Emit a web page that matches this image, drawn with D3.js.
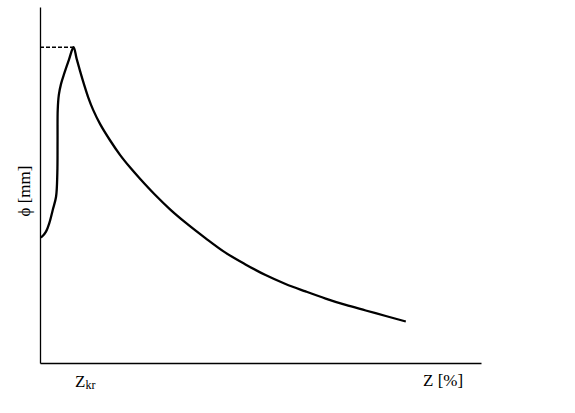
<!DOCTYPE html>
<html>
<head>
<meta charset="utf-8">
<script src="https://cdn.jsdelivr.net/npm/d3@7"></script>
<style>
  body { margin: 0; background: #fff; }
  text { font-family: "Liberation Serif", "Times New Roman", serif; fill: #000; }
</style>
</head>
<body>
<svg id="chart"></svg>
<script>
// curve (Z in %, phi in mm, arbitrary units)
const zValues = [0.11, 0.45, 1.36, 2.11, 2.89, 3.64, 3.93, 3.98, 4.02, 4.27, 4.77, 5.52, 6.59, 7.61,
  8.3, 9.09, 10.0, 10.91, 12.05, 13.64, 15.91, 18.18, 20.45, 22.73, 26.14, 29.55, 32.95,
  37.5, 42.05, 46.59, 51.14, 55.68, 60.23, 64.77, 69.32, 73.86, 78.41, 82.95];
const phiValues = [35.3, 35.5, 36.9, 39.3, 43.0, 46.7, 53.4, 62.6, 71.1, 75.3, 78.4, 81.4, 85.3, 88.7,
  85.5, 82.0, 78.2, 74.7, 71.1, 67.1, 62.5, 58.4, 54.9, 51.7, 47.2, 43.1, 39.5,
  35.1, 31.0, 27.7, 24.7, 22.2, 20.1, 18.1, 16.3, 14.75, 13.2, 11.66];
const zKr = 7.61;
const phiMax = 88.7;
const xTitle = "Z [%]";
const yTitle = "\u03D5 [mm]";

const width = 575, height = 413;
const margin = { top: 7, right: 94, bottom: 50, left: 40 };

const svg = d3.select("#chart")
  .attr("width", width)
  .attr("height", height);

const xScale = d3.scaleLinear()
  .domain([0, 100])
  .range([margin.left, width - margin.right]);

const yScale = d3.scaleLinear()
  .domain([0, 100])
  .range([height - margin.bottom, margin.top]);

const data = zValues.map((z, i) => ({ z: z, phi: phiValues[i] }));

// axes: plain lines, no ticks
svg.append("g")
  .attr("transform", `translate(0,${yScale(0)})`)
  .call(d3.axisBottom(xScale).tickSize(0).tickValues([]))
  .select(".domain")
  .attr("stroke-width", 1.3);

svg.append("g")
  .attr("transform", `translate(${xScale(0)},0)`)
  .call(d3.axisLeft(yScale).tickSize(0).tickValues([]))
  .select(".domain")
  .attr("stroke-width", 1.3);

// dashed line to the peak
svg.append("line")
  .attr("x1", xScale(0))
  .attr("x2", xScale(zKr))
  .attr("y1", yScale(phiMax))
  .attr("y2", yScale(phiMax))
  .attr("stroke", "#000")
  .attr("stroke-width", 1.3)
  .attr("stroke-dasharray", "4,2");

const line = d3.line()
  .x((d) => xScale(d.z))
  .y((d) => yScale(d.phi))
  .curve(d3.curveCatmullRom.alpha(0.5));

svg.append("path")
  .datum(data)
  .attr("d", line)
  .attr("fill", "none")
  .attr("stroke", "#000")
  .attr("stroke-width", 2.3)
  .attr("stroke-linejoin", "round");

// labels
const zk = svg.append("text")
  .attr("x", xScale(zKr) + 1.5)
  .attr("y", 386.5)
  .style("font-size", "17px");
zk.append("tspan").text("Z");
zk.append("tspan")
  .attr("dy", 2)
  .style("font-size", "12px")
  .text("kr");

svg.append("text")
  .attr("x", 423)
  .attr("y", 386)
  .style("font-size", "17px")
  .text(xTitle);

svg.append("text")
  .attr("transform", `translate(30,191) rotate(-90)`)
  .attr("text-anchor", "middle")
  .style("font-size", "17px")
  .text(yTitle);
</script>
</body>
</html>
